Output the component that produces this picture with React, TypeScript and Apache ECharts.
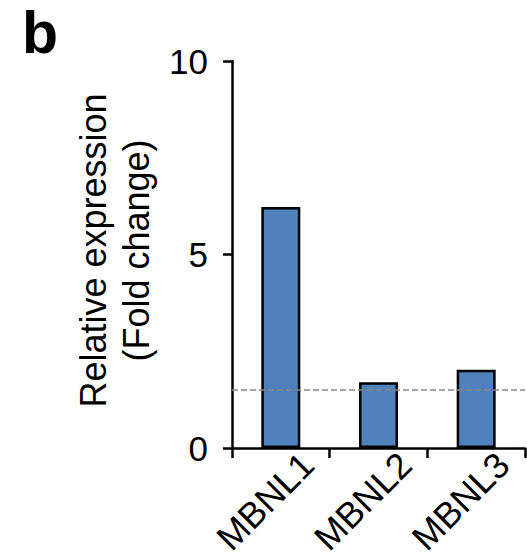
import React, { useEffect, useRef } from "react";
import * as echarts from "echarts";

const categories = ["MBNL1", "MBNL2", "MBNL3"];
const values = [6.23, 1.7, 2.02];
const baselineValue = 1.5;
const yMin = 0;
const yMax = 10;
const yInterval = 5;

export default function App() {
  const ref = useRef<HTMLDivElement>(null);
  useEffect(() => {
    const chart = echarts.init(ref.current!, null, { renderer: "svg" });
    const font = "'Liberation Sans', Arial, sans-serif";
    chart.setOption({
      animation: false,
      backgroundColor: "#ffffff",
      textStyle: { fontFamily: font },
      grid: { left: 232, right: 2, top: 61, bottom: 109, containLabel: false, outerBoundsMode: "none" },
      graphic: [
        {
          type: "text",
          left: 22,
          top: 3,
          style: { text: "b", font: `bold 59px ${font}`, fill: "#000" },
        },
      ],
      xAxis: {
        type: "category",
        data: categories,
        boundaryGap: true,
        axisLine: { show: true, lineStyle: { color: "#000", width: 2.5 } },
        axisTick: { show: true, length: 10, lineStyle: { color: "#000", width: 2.5 } },
        axisLabel: {
          interval: 0,
          rotate: 45,
          margin: 8,
          fontSize: 36,
          color: "#000",
          fontFamily: font,
          verticalAlign: "top",
          padding: [3, -17, 0, 0],
          hideOverlap: false,
        },
        splitLine: { show: false },
      },
      yAxis: {
        type: "value",
        min: yMin,
        max: yMax,
        interval: yInterval,
        name: "Relative expression\n(Fold change)",
        nameLocation: "middle",
        nameRotate: 90,
        nameGap: 70,
        nameTextStyle: { fontSize: 36, lineHeight: 43, color: "#000", fontFamily: font, padding: [0, 0, 0, 8] },
        axisLine: { show: true, lineStyle: { color: "#000", width: 2.5 } },
        axisTick: { show: true, length: 9, lineStyle: { color: "#000", width: 2.5 } },
        axisLabel: { fontSize: 35, color: "#000", margin: 24, fontFamily: font },
        splitLine: { show: false },
      },
      series: [
        {
          type: "bar",
          data: values,
          barWidth: 39,
          itemStyle: { color: "#4F81BD", borderColor: "#000", borderWidth: 2.5 },
          markLine: {
            silent: true,
            symbol: "none",
            label: { show: false },
            lineStyle: { color: "#888888", type: "dashed", width: 1.5 },
            data: [{ yAxis: baselineValue }],
          },
        },
      ],
    });
    return () => chart.dispose();
  }, []);
  return (
    <div
      ref={ref}
      style={{ position: "fixed", left: 0, top: 0, width: 527, height: 557, background: "#fff" }}
    />
  );
}
